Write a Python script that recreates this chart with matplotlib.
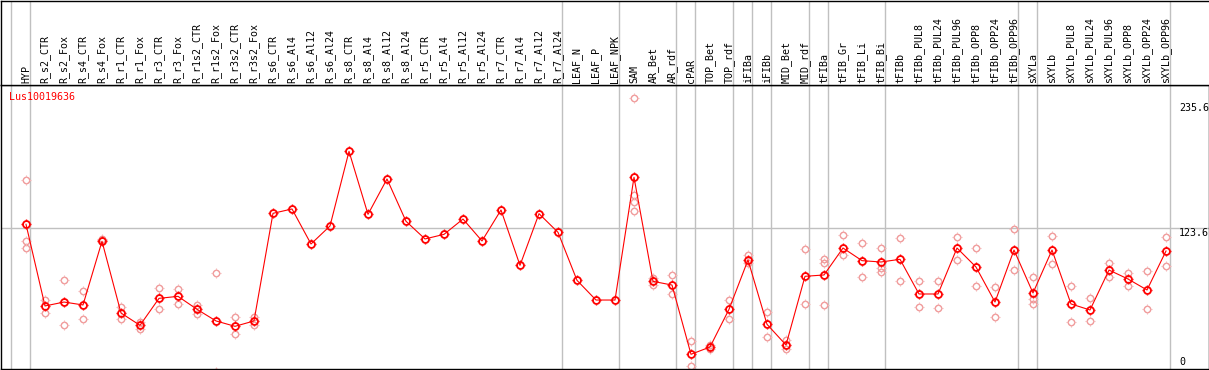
import matplotlib
matplotlib.use('Agg')
import matplotlib.pyplot as plt
from matplotlib.path import Path

# samples (columns), left to right
samples = ['HYP', 'R_s2_CTR', 'R_s2_Fox', 'R_s4_CTR', 'R_s4_Fox', 'R_r1_CTR', 'R_r1_Fox',
           'R_r3_CTR', 'R_r3_Fox', 'R_r1s2_CTR', 'R_r1s2_Fox', 'R_r3s2_CTR', 'R_r3s2_Fox',
           'R_s6_CTR', 'R_s6_Al4', 'R_s6_Al12', 'R_s6_Al24', 'R_s8_CTR', 'R_s8_Al4',
           'R_s8_Al12', 'R_s8_Al24', 'R_r5_CTR', 'R_r5_Al4', 'R_r5_Al12', 'R_r5_Al24',
           'R_r7_CTR', 'R_r7_Al4', 'R_r7_Al12', 'R_r7_Al24', 'LEAF_N', 'LEAF_P', 'LEAF_NPK',
           'SAM', 'AR_Bet', 'AR_rdf', 'cPAR', 'TOP_Bet', 'TOP_rdf', 'iFIBa', 'iFIBb',
           'MID_Bet', 'MID_rdf', 'tFIBa', 'tFIB_Gr', 'tFIB_Li', 'tFIB_Bi', 'tFIBb',
           'tFIBb_PUL8', 'tFIBb_PUL24', 'tFIBb_PUL96', 'tFIBb_OPP8', 'tFIBb_OPP24',
           'tFIBb_OPP96', 'sXYLa', 'sXYLb', 'sXYLb_PUL8', 'sXYLb_PUL24', 'sXYLb_PUL96',
           'sXYLb_OPP8', 'sXYLb_OPP24', 'sXYLb_OPP96']

# mean expression per sample
means = [127.2, 54.2, 57.7, 55.1, 112.0, 47.9, 36.9, 61.0, 62.8, 51.2, 40.8, 36.0, 40.8,
         137.0, 140.9, 109.6, 125.7, 192.4, 136.1, 167.7, 129.9, 114.1, 118.2, 131.9, 112.3,
         140.0, 90.5, 136.7, 120.0, 77.1, 59.5, 59.5,
         169.2, 76.2, 72.9, 11.0, 17.5, 51.2, 95.3, 37.8,
         19.3, 80.7, 81.9, 106.0, 94.7, 93.5, 95.9,
         64.9, 64.9, 106.0, 89.0, 57.7,
         104.2, 65.8, 104.2, 56.0, 50.6, 86.3,
         78.3, 68.5, 103.3]

# individual replicates per sample
replicates = [[166.8, 112.3, 106.0], [59.6, 47.6], [77.1, 36.9], [67.3, 42.3], [114.3, 113.2],
              [53.3, 42.3], [39.6, 33.9], [70.0, 51.8], [69.4, 55.7], [55.3, 47.3],
              [83.4, -4.5], [44.1, 28.9], [44.3, 37.5],
              [], [], [], [], [], [], [], [], [], [], [], [], [], [], [], [], [], [], [],
              [239.8, 153.4, 146.8, 138.8], [79.5, 73.2], [81.9, 64.6], [22.9, 0.5],
              [15.5, 19.3], [59.5, 42.3], [99.5, 92.9], [48.5, 26.7],
              [23.8, 15.5], [105.1, 55.7], [96.0, 93.0, 55.1], [117.6, 99.5], [110.2, 79.8],
              [106.0, 88.4, 84.8], [114.7, 76.5],
              [76.5, 53.3], [76.5, 52.1], [115.8, 95.0], [106.0, 72.0], [70.9, 44.1],
              [122.7, 86.1], [79.8, 60.1, 55.7], [116.7, 91.7], [72.0, 39.6], [61.0, 40.8],
              [92.6, 79.8], [83.7, 71.8], [85.2, 51.5], [115.6, 89.6]]

# last column index of each sample group
group_ends = [-1, 0, 28, 31, 34, 35, 37, 38, 39, 41, 42, 45, 52, 53, 60]

gene = 'Lus10019636'
ref_levels = [0, 123.6, 235.6]

W, H = 1209, 370
HEAD = 85
fig = plt.figure(figsize=(W / 100, H / 100), dpi=100)
mono = 'DejaVu Sans Mono'
fs = 7.2
grey = '#c0c0c0'

# pixel -> data mapping
def px_x(p):
    return (p - 26) / 19.0

xlim = (px_x(0.5), px_x(W - 0.5))
ylim = ((366.6 - 369) / 1.1188, (366.6 - HEAD) / 1.1188)

ax = fig.add_axes([0.5 / W, 1 / H, (W - 1) / W, (369 - HEAD) / H])
hx = fig.add_axes([0.5 / W, (H - HEAD) / H, (W - 1) / W, (HEAD - 0.5) / H])

for a in (ax, hx):
    a.set_xlim(*xlim)
    a.set_xticks([])
    a.set_yticks([])
    for s in a.spines.values():
        s.set_color('black')
        s.set_linewidth(1.0)
    for g in group_ends:
        a.axvline(g + 0.23, color=grey, lw=1.0, zorder=1)
hx.spines['right'].set_visible(False)
ax.set_ylim(*ylim)
hx.set_ylim(0, 1)

ax.axhline(ref_levels[1], color=grey, lw=1.0, zorder=1)

# tick-decorated circle marker
ticks = Path([(0, 0.7), (0, 1), (0, -0.7), (0, -1), (0.7, 0), (1, 0), (-0.7, 0), (-1, 0)],
             [Path.MOVETO, Path.LINETO] * 4)

x = list(range(len(samples)))
rx = [i for i, r in enumerate(replicates) for _ in r]
ry = [v for r in replicates for v in r]
ax.plot(rx, ry, ls='none', marker='o', ms=4.6, mfc='none', mec='#f09a9a', mew=1.0, zorder=2)
ax.plot(rx, ry, ls='none', marker=ticks, ms=6.5, mec='#f4b8b8', mew=0.8, zorder=2)
ax.plot(x, means, color='red', lw=0.8, marker='o', ms=5, mfc='none', mec='red', mew=1.3,
        zorder=3)
ax.plot(x, means, ls='none', marker=ticks, ms=7.2, mec='red', mew=1.0, zorder=3)

for i, name in enumerate(samples):
    hx.text(i, 2.5 / HEAD, name, rotation=90, ha='center', va='bottom',
            family=mono, fontsize=fs, color='black')

fig.text(9.5 / W, 1 - 96.7 / H, gene, ha='left', va='center', family=mono,
         fontsize=fs, color='red')

ytr = ax.get_yaxis_transform()
tx = (1179 - 0.5) / (W - 1)
for v in ref_levels:
    ax.text(tx, v, f'{v:g}', transform=ytr, ha='left', va='bottom' if v == 0 else 'top',
            family=mono, fontsize=fs, color='black', clip_on=False)

fig.savefig('out.png', dpi=100)
